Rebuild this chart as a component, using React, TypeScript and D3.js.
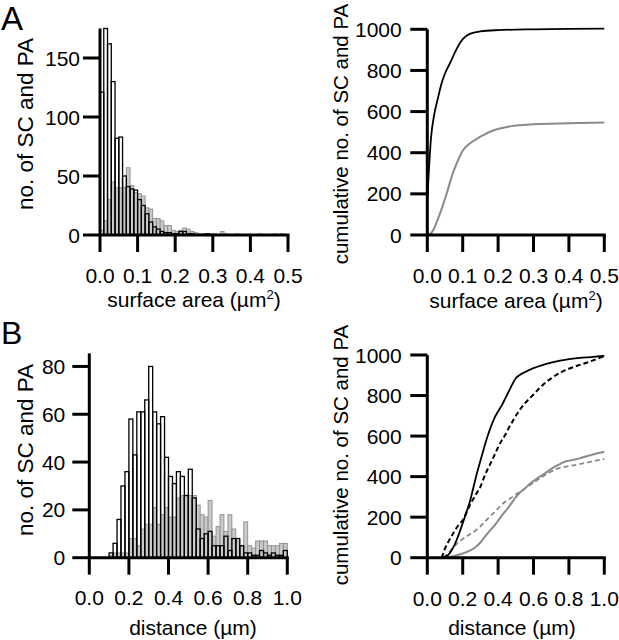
import React from 'react';
import * as d3 from 'd3';

const FONT = "'Liberation Sans', Arial, Helvetica, sans-serif";

// ---------- Data ----------
// Panel A: surface area histogram (bin width 0.01 µm², 0 – 0.5)
const areaBinWidth = 0.01;
const areaCountSC = [121, 175, 162, 130, 82, 83, 50, 41, 39, 38, 30, 25, 18, 11, 7, 5, 3, 2, 2, 1, 1, 3, 3, 1, 1, 0, 0, 0, 1, 0, 0, 0, 0, 0, 0, 0, 0, 0, 0, 0, 0, 0, 0, 0, 0, 0, 0, 0, 0, 0];
const areaCountPA = [4, 12, 30, 45, 40, 40, 40, 57, 42, 36, 35, 33, 23, 22, 14, 14, 12, 8, 8, 4, 3, 4, 6, 5, 3, 2, 1, 1, 1, 1, 1, 0, 3, 1, 0, 0, 1, 0, 0, 0, 0, 0, 1, 0, 0, 0, 1, 0, 1, 0];

// Panel A: cumulative (x: surface area, y: cumulative count)
const cumAreaSC: [number, number][] = [[0, 170], [0.005, 330], [0.01, 462], [0.02, 590], [0.03, 665], [0.04, 735], [0.05, 785], [0.064, 835], [0.083, 905], [0.1, 952], [0.12, 978], [0.15, 990], [0.2, 996], [0.3, 1000], [0.4, 1002], [0.5, 1003]];
const cumAreaPA: [number, number][] = [[0, 0], [0.01, 8], [0.017, 24], [0.026, 60], [0.036, 105], [0.046, 155], [0.055, 203], [0.069, 284], [0.083, 348], [0.1, 410], [0.12, 445], [0.15, 478], [0.186, 508], [0.234, 528], [0.3, 538], [0.4, 543], [0.5, 547]];

// Panel B: distance histogram (bin width 0.02 µm, 0 – 1.0)
const distBinWidth = 0.02;
const distCountSC = [0, 0, 0, 0, 0, 2, 6, 16, 30, 36, 58, 43, 61, 61, 66, 80, 61, 56, 59, 42, 34, 31, 36, 34, 26, 37, 25, 12, 8, 10, 11, 5, 5, 5, 9, 3, 8, 8, 5, 2, 2, 1, 1, 3, 2, 1, 2, 1, 1, 3];
const distCountPA = [0, 0, 0, 0, 0, 1, 2, 2, 2, 2, 8, 8, 5, 12, 14, 14, 21, 14, 18, 21, 17, 17, 25, 26, 26, 26, 26, 22, 18, 17, 24, 9, 13, 18, 11, 18, 12, 7, 5, 15, 5, 4, 7, 7, 7, 5, 5, 5, 6, 6];

// Panel B: cumulative curves
const cumDistSC: [number, number][] = [[0.08, 0], [0.1, 5], [0.12, 15], [0.14, 40], [0.16, 75], [0.18, 120], [0.2, 170], [0.22, 222], [0.24, 275], [0.26, 345], [0.28, 415], [0.3, 478], [0.32, 540], [0.34, 598], [0.36, 648], [0.38, 690], [0.4, 722], [0.42, 750], [0.44, 785], [0.46, 820], [0.48, 855], [0.5, 885], [0.52, 900], [0.55, 915], [0.6, 935], [0.65, 950], [0.7, 962], [0.75, 972], [0.8, 980], [0.85, 985], [0.9, 988], [0.95, 992], [1, 995]];
const cumDistSCdash: [number, number][] = [[0.08, 0], [0.09, 20], [0.1, 45], [0.12, 80], [0.14, 110], [0.16, 140], [0.18, 165], [0.2, 185], [0.22, 220], [0.24, 258], [0.26, 290], [0.28, 320], [0.3, 350], [0.32, 395], [0.34, 435], [0.36, 470], [0.38, 507], [0.4, 545], [0.42, 578], [0.44, 605], [0.46, 640], [0.48, 670], [0.5, 700], [0.55, 760], [0.6, 805], [0.65, 850], [0.7, 885], [0.75, 912], [0.8, 932], [0.85, 948], [0.9, 962], [0.95, 978], [1, 995]];
const cumDistPA: [number, number][] = [[0.09, 0], [0.12, 2], [0.15, 8], [0.2, 21], [0.24, 35], [0.27, 50], [0.3, 75], [0.326, 104], [0.35, 130], [0.382, 161], [0.41, 195], [0.439, 227], [0.47, 262], [0.495, 293], [0.52, 318], [0.552, 342], [0.58, 365], [0.608, 383], [0.635, 400], [0.665, 416], [0.69, 432], [0.72, 449], [0.75, 462], [0.778, 474], [0.8, 478], [0.834, 484], [0.86, 490], [0.89, 498], [0.92, 505], [0.947, 512], [0.97, 517], [1, 523]];
const cumDistPAdash: [number, number][] = [[0.09, 0], [0.12, 25], [0.156, 60], [0.2, 92], [0.24, 115], [0.27, 132], [0.3, 155], [0.326, 178], [0.35, 200], [0.382, 227], [0.41, 252], [0.44, 276], [0.47, 293], [0.495, 309], [0.552, 342], [0.608, 375], [0.665, 408], [0.7, 425], [0.74, 441], [0.79, 450], [0.834, 457], [0.88, 465], [0.928, 474], [0.96, 480], [1, 487]];

// Ticks
const areaTicksX = [0, 0.1, 0.2, 0.3, 0.4, 0.5];
const areaHistTicksY = [0, 50, 100, 150];
const distTicksX = [0, 0.2, 0.4, 0.6, 0.8, 1.0];
const distHistTicksY = [0, 20, 40, 60, 80];
const cumTicksY = [0, 200, 400, 600, 800, 1000];

const BLACK = '#000';
const GRAY_LINE = '#8a8a8a';
const GRAY_FILL = '#c9c9c9';
const GRAY_STROKE = '#8e8e8e';

type Lin = d3.ScaleLinear<number, number>;

function Axes({ x, y, xTicks, yTicks, labelGap, xLabelBase }: { x: Lin; y: Lin; xTicks: number[]; yTicks: number[]; labelGap: number; xLabelBase: number }) {
  const [x0, x1] = x.range();
  const [yb, yt] = y.range();
  const TL = 17;
  return (
    <g>
      <line x1={x0 - 1.5} x2={x1 + 1.5} y1={yb} y2={yb} stroke={BLACK} strokeWidth={3} />
      <line x1={x0} x2={x0} y1={yb} y2={yt} stroke={BLACK} strokeWidth={3} />
      {xTicks.map((t) => (
        <g key={'x' + t}>
          <line x1={x(t)} x2={x(t)} y1={yb} y2={yb + TL} stroke={BLACK} strokeWidth={3} />
          <text x={x(t)} y={xLabelBase} textAnchor="middle" fontSize={21} fontFamily={FONT}>{t.toFixed(1)}</text>
        </g>
      ))}
      {yTicks.map((t) => (
        <g key={'y' + t}>
          <line x1={x0 - TL} x2={x0} y1={y(t)} y2={y(t)} stroke={BLACK} strokeWidth={3} />
          <text x={x0 - labelGap} y={y(t) + 7.5} textAnchor="end" fontSize={21} fontFamily={FONT}>{t}</text>
        </g>
      ))}
    </g>
  );
}

function Bars({ x, y, counts, bw, fill, stroke, sw }: { x: Lin; y: Lin; counts: number[]; bw: number; fill: string; stroke: string; sw: number }) {
  return (
    <g>
      {counts.map((c, i) => {
        if (c <= 0) return null;
        const xa = x(i * bw);
        const xb = x((i + 1) * bw);
        return <rect key={i} x={xa} y={y(c)} width={xb - xa} height={y(0) - y(c)} fill={fill} stroke={stroke} strokeWidth={sw} />;
      })}
    </g>
  );
}

function Curve({ x, y, pts, color, width, dash }: { x: Lin; y: Lin; pts: [number, number][]; color: string; width: number; dash?: string }) {
  const gen = d3.line<[number, number]>().x((d) => x(d[0])).y((d) => y(d[1])).curve(d3.curveMonotoneX);
  return <path d={gen(pts) || ''} fill="none" stroke={color} strokeWidth={width} strokeDasharray={dash} strokeLinejoin="round" />;
}

function YLabel({ x, y, text, size }: { x: number; y: number; text: string; size: number }) {
  return (
    <text transform={`translate(${x},${y}) rotate(-90)`} textAnchor="middle" fontSize={size} fontFamily={FONT}>{text}</text>
  );
}

function AreaTitle({ cx, y }: { cx: number; y: number }) {
  return (
    <text x={cx} y={y} textAnchor="middle" fontSize={21} fontFamily={FONT}>
      surface area (µm<tspan dy={-8} fontSize={13}>2</tspan><tspan dy={8}>)</tspan>
    </text>
  );
}

export default function App() {
  // Panel A left: histogram
  const xA1 = d3.scaleLinear().domain([0, 0.5]).range([100, 288]);
  const yA1 = d3.scaleLinear().domain([0, 175]).range([235, 28.5]);
  // Panel A right: cumulative
  const xA2 = d3.scaleLinear().domain([0, 0.5]).range([427.3, 604.3]);
  const yA2 = d3.scaleLinear().domain([0, 1000]).range([235, 29.3]);
  // Panel B left
  const xB1 = d3.scaleLinear().domain([0, 1]).range([89.3, 287.3]);
  const yB1 = d3.scaleLinear().domain([0, 85.5]).range([557.7, 353.3]);
  // Panel B right
  const xB2 = d3.scaleLinear().domain([0, 1]).range([427.3, 604.3]);
  const yB2 = d3.scaleLinear().domain([0, 1000]).range([557.7, 355]);

  return (
    <svg width={619} height={640} viewBox="0 0 619 640" style={{ position: 'absolute', left: 0, top: 0, background: '#fff' }}>
      <rect x={0} y={0} width={619} height={640} fill="#fff" />
      {/* Panel letters */}
      <text x={1} y={30} fontSize={33} fontFamily={FONT}>A</text>
      <text x={1} y={344} fontSize={32} fontFamily={FONT}>B</text>

      {/* A left */}
      <Bars x={xA1} y={yA1} counts={areaCountPA} bw={areaBinWidth} fill={GRAY_FILL} stroke={GRAY_STROKE} sw={0.9} />
      <Bars x={xA1} y={yA1} counts={areaCountSC} bw={areaBinWidth} fill="none" stroke={BLACK} sw={1.3} />
      <Axes x={xA1} y={yA1} xTicks={areaTicksX} yTicks={areaHistTicksY} labelGap={20} xLabelBase={283} />
      <YLabel x={33} y={124} text="no. of SC and PA" size={22.5} />
      <AreaTitle cx={194} y={307} />

      {/* A right */}
      <Curve x={xA2} y={yA2} pts={cumAreaPA} color={GRAY_LINE} width={2} />
      <Curve x={xA2} y={yA2} pts={cumAreaSC} color={BLACK} width={1.8} />
      <Axes x={xA2} y={yA2} xTicks={areaTicksX} yTicks={cumTicksY} labelGap={25.6} xLabelBase={283} />
      <YLabel x={348} y={134} text="cumulative no. of SC and PA" size={20.5} />
      <AreaTitle cx={516} y={308} />

      {/* B left */}
      <Bars x={xB1} y={yB1} counts={distCountPA} bw={distBinWidth} fill={GRAY_FILL} stroke={GRAY_STROKE} sw={0.9} />
      <Bars x={xB1} y={yB1} counts={distCountSC} bw={distBinWidth} fill="none" stroke={BLACK} sw={1.3} />
      <Axes x={xB1} y={yB1} xTicks={distTicksX} yTicks={distHistTicksY} labelGap={24} xLabelBase={605} />
      <YLabel x={33} y={450} text="no. of SC and PA" size={22.5} />
      <text x={193} y={635} textAnchor="middle" fontSize={21} fontFamily={FONT}>distance (µm)</text>

      {/* B right */}
      <Curve x={xB2} y={yB2} pts={cumDistPAdash} color={GRAY_LINE} width={1.8} dash="5,3" />
      <Curve x={xB2} y={yB2} pts={cumDistPA} color={GRAY_LINE} width={2} />
      <Curve x={xB2} y={yB2} pts={cumDistSCdash} color={BLACK} width={2} dash="5,3" />
      <Curve x={xB2} y={yB2} pts={cumDistSC} color={BLACK} width={1.8} />
      <Axes x={xB2} y={yB2} xTicks={distTicksX} yTicks={cumTicksY} labelGap={25.6} xLabelBase={606} />
      <YLabel x={348} y={455} text="cumulative no. of SC and PA" size={20.5} />
      <text x={512} y={635} textAnchor="middle" fontSize={21} fontFamily={FONT}>distance (µm)</text>
    </svg>
  );
}
